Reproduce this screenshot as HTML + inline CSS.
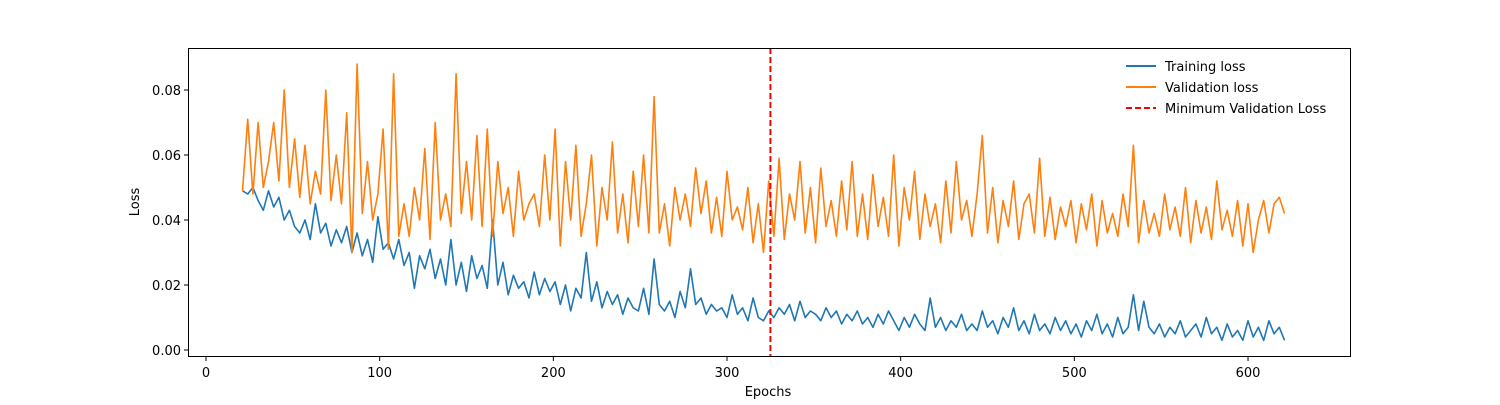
<!DOCTYPE html>
<html><head><meta charset="utf-8"><style>
body{margin:0;background:#fff;}
svg text{font-family:"DejaVu Sans","Liberation Sans",sans-serif;font-size:13px;fill:#000;}
</style></head><body>
<svg id="chart" width="1500" height="400" xmlns="http://www.w3.org/2000/svg">
<rect x="0" y="0" width="1500" height="400" fill="#fff"/>
<g id="plot"></g>
<rect x="188.5" y="48.5" width="1162" height="308" fill="none" stroke="#000" stroke-width="1"/>
<text x="768" y="396" text-anchor="middle">Epochs</text>
<text transform="translate(139,202) rotate(-90)" text-anchor="middle">Loss</text>
<g>
<line x1="1126" y1="66" x2="1156" y2="66" stroke="#1f77b4" stroke-width="2"/>
<text x="1165" y="71">Training loss</text>
<line x1="1126" y1="87" x2="1156" y2="87" stroke="#ff7f0e" stroke-width="2"/>
<text x="1165" y="92">Validation loss</text>
<line x1="1126" y1="108" x2="1156" y2="108" stroke="red" stroke-width="2" stroke-dasharray="6,3"/>
<text x="1165" y="113">Minimum Validation Loss</text>
</g>
</svg>
<script>
const trainLoss=[.049,.048,.050,.046,.043,.049,.044,.047,.040,.043,.038,.036,.040,.034,.045,.036,.039,.032,.037,.033,
.038,.030,.036,.029,.034,.027,.041,.031,.033,.028,.034,.026,.030,.019,.029,.025,.031,.022,.028,.020,
.034,.020,.027,.018,.029,.022,.026,.019,.040,.020,.027,.017,.023,.019,.021,.016,.024,.017,.022,.018,
.021,.014,.020,.012,.019,.016,.030,.015,.021,.013,.018,.014,.017,.011,.016,.013,.012,.019,.011,.028,
.014,.012,.015,.010,.018,.013,.025,.014,.016,.011,.014,.012,.013,.010,.017,.011,.013,.009,.016,.010,
.009,.012,.010,.013,.011,.014,.009,.015,.010,.012,.011,.009,.013,.010,.012,.008,.011,.009,.012,.008,
.010,.007,.011,.008,.012,.009,.006,.010,.007,.011,.008,.006,.016,.007,.010,.006,.009,.007,.011,.006,
.008,.006,.012,.007,.009,.005,.010,.007,.013,.006,.009,.005,.011,.006,.008,.005,.010,.006,.009,.005,
.008,.004,.009,.006,.011,.005,.008,.004,.010,.005,.007,.017,.006,.015,.007,.005,.008,.004,.007,.005,
.009,.004,.006,.008,.004,.010,.005,.007,.003,.008,.004,.006,.003,.009,.004,.007,.003,.009,.005,.007,.003];
const valLoss=[.049,.071,.048,.070,.050,.058,.070,.052,.080,.050,.065,.047,.063,.045,.055,.048,.080,.046,.060,.045,
.073,.030,.088,.042,.058,.040,.048,.068,.031,.085,.035,.045,.035,.050,.040,.062,.034,.070,.040,.048,
.038,.085,.042,.058,.040,.066,.038,.068,.035,.058,.042,.050,.035,.055,.040,.045,.048,.038,.060,.040,
.068,.032,.058,.040,.063,.035,.045,.060,.032,.050,.040,.064,.036,.048,.033,.055,.038,.060,.036,.078,
.036,.045,.032,.050,.040,.048,.038,.056,.042,.052,.036,.047,.035,.055,.040,.044,.037,.050,.033,.045,
.030,.052,.035,.059,.034,.048,.040,.058,.036,.050,.033,.056,.038,.046,.035,.052,.037,.058,.035,.048,
.034,.054,.038,.047,.035,.060,.032,.050,.040,.055,.034,.048,.038,.045,.033,.052,.036,.058,.040,.046,
.035,.048,.066,.036,.050,.033,.046,.038,.052,.034,.045,.048,.036,.059,.035,.047,.034,.044,.038,.046,
.033,.045,.037,.048,.032,.046,.036,.042,.035,.048,.038,.063,.033,.046,.036,.042,.035,.048,.037,.044,
.035,.050,.033,.046,.036,.044,.034,.052,.037,.043,.035,.046,.032,.045,.030,.040,.046,.036,.045,.047,.042];
const epochStart=21, epochStep=3;
const minValEpoch=325;
const xTicks=[0,100,200,300,400,500,600];
const yTicks=[0.00,0.02,0.04,0.06,0.08];

const xs=e=>206+e*1.7367;
const ys=v=>350-v*3250;
const NS="http://www.w3.org/2000/svg";
const svg=document.getElementById('chart');
const plot=document.getElementById('plot');
function mk(t,a,p){const el=document.createElementNS(NS,t);for(const k in a)el.setAttribute(k,a[k]);(p||svg).appendChild(el);return el;}
xTicks.forEach(t=>{
  const g=mk('g',{});
  
  
  mk('line',{x1:xs(t),x2:xs(t),y1:357,y2:361,stroke:'#000'},g);
  const tx=mk('text',{x:xs(t),y:377,'text-anchor':'middle'},g);tx.textContent=t;
});
yTicks.forEach(t=>{
  const g=mk('g',{});
  
  
  mk('line',{x1:184,x2:188,y1:ys(t),y2:ys(t),stroke:'#000'},g);
  const tx=mk('text',{x:181,y:ys(t)+5,'text-anchor':'end'},g);tx.textContent=t.toFixed(2);
});
function line(arr,color,name){
  const d=arr.map((v,i)=>(i?'L':'M')+xs(epochStart+i*epochStep).toFixed(1)+','+ys(v).toFixed(1)).join('');
  const p=mk('path',{d:d,fill:'none',stroke:color,'stroke-width':1.6,'stroke-linejoin':'round'},plot);
  
  
}
line(trainLoss,'#1f77b4','training-loss-line');
line(valLoss,'#ff7f0e','validation-loss-line');
const ml=mk('line',{x1:xs(minValEpoch),x2:xs(minValEpoch),y1:48,y2:356,stroke:'red','stroke-width':2,'stroke-dasharray':'6,3'},plot);


</script>
</body></html>
